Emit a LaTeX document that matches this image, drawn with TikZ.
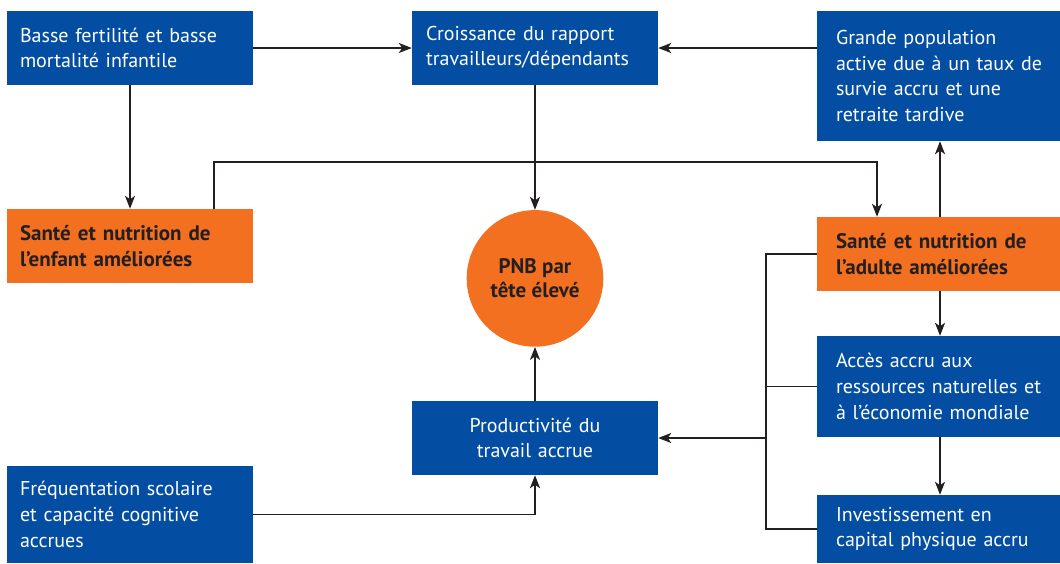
\documentclass[tikz,border=0pt]{standalone}
\usepackage{fontspec}
\setmainfont{PT Sans}
\usetikzlibrary{arrows.meta}
\definecolor{myblue}{HTML}{034EA2}
\definecolor{myorange}{HTML}{F37021}
\definecolor{mydark}{HTML}{231F20}
\begin{document}
\begin{tikzpicture}[x=1pt,y=-1pt,
  every node/.style={font=\fontsize{20}{25.6}\selectfont},
  box/.style={rectangle, inner ysep=0pt, align=left, anchor=center},
  bluebox/.style={box, fill=myblue, text=white},
  orangebox/.style={box, fill=myorange, text=mydark, font=\fontsize{21}{25.6}\selectfont\bfseries},
  leftcol/.style={text width=220pt, inner xsep=13pt},
  midcol/.style={text width=218pt, inner xsep=14pt},
  rightcol/.style={text width=232pt, inner xsep=19pt},
  conn/.style={draw=mydark, line width=1.9pt},
  arr/.style={conn, -{Stealth[length=13pt,width=10pt,inset=3.5pt]}}
]
\useasboundingbox (0,0) rectangle (1060,563);

\node[bluebox, leftcol, minimum height=74pt] (tl) at (130,48) {Basse fertilité et basse\\mortalité infantile};
\node[bluebox, midcol, minimum height=74pt] (tm) at (535,48) {Croissance du rapport\\travailleurs/dépendants};
\node[bluebox, rightcol, minimum height=130pt] (tr) at (952,76) {Grande population\\active due à un taux de\\survie accru et une\\retraite tardive};
\node[orangebox, leftcol, minimum height=74pt] (ol) at (130,246) {Santé et nutrition de\\l’enfant améliorées};
\node[orangebox, rightcol, minimum height=74pt] (or) at (952,254) {Santé et nutrition de\\l’adulte améliorées};
\node[circle, fill=myorange, text=mydark, minimum size=136.6pt, inner sep=0pt, align=center, font=\fontsize{21}{24.5}\selectfont\bfseries] (pnb) at (535,278.4) {PNB par\\tête élevé};
\node[bluebox, rightcol, minimum height=101pt] (rm) at (952,386.5) {Accès accru aux\\ressources naturelles et\\à l’économie mondiale};
\node[bluebox, midcol, align=center, minimum height=74pt] (prod) at (535,438) {Productivité du\\travail accrue};
\node[bluebox, leftcol, minimum height=97pt] (bl) at (130,514.5) {Fréquentation scolaire\\et capacité cognitive\\accrues};
\node[bluebox, rightcol, minimum height=68pt] (br) at (952,529) {Investissement en\\capital physique accru};

\coordinate (bus) at (766,254);

\draw[arr] (tl.east) -- (tm.west);
\draw[arr] (tr.west |- tm.east) -- (tm.east);
\draw[arr] (tl.south) -- (ol.north);
\draw[arr] (tm.south) -- (pnb.north);
\draw[arr] ([xshift=84pt]ol.north) -- ++(0,-47) -| ([xshift=-75pt]or.north);
\draw[arr] ([xshift=-12pt]or.north) -- ([xshift=-12pt]tr.south);
\draw[arr] ([xshift=-12pt]or.south) -- ([xshift=-12pt]rm.north);
\draw[arr] ([xshift=-12pt]rm.south) -- ([xshift=-12pt]br.north);
\draw[conn] (or.west) -- (bus) |- (br.west);
\draw[conn] (rm.west) -- (rm.west -| bus);
\draw[arr] (prod.east -| bus) -- (prod.east);
\draw[arr] (prod.north) -- (pnb.south);
\draw[arr] (bl.east) -| (prod.south);
\end{tikzpicture}
\end{document}
